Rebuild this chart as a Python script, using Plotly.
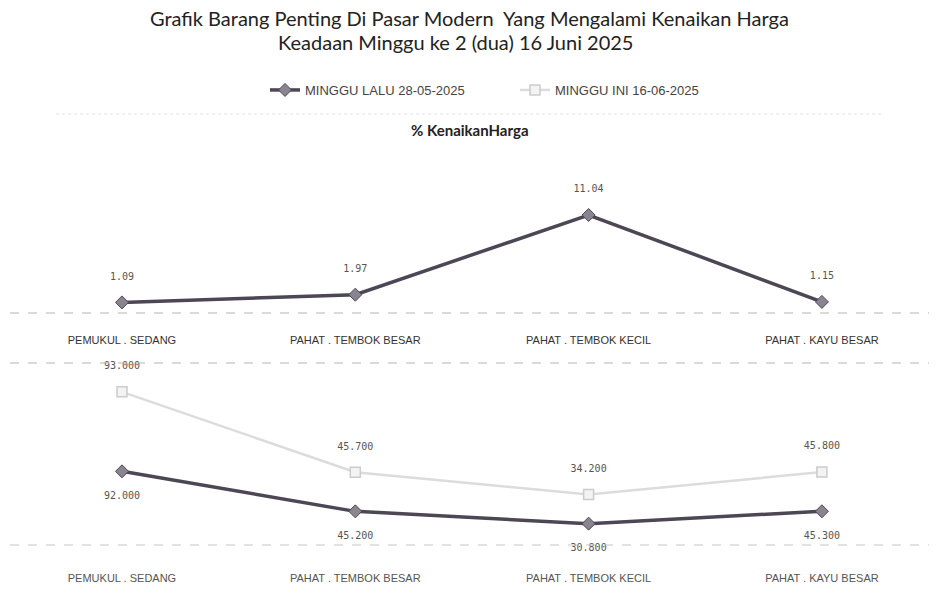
import plotly.graph_objects as go

categories = ["PEMUKUL . SEDANG", "PAHAT . TEMBOK BESAR", "PAHAT . TEMBOK KECIL", "PAHAT . KAYU BESAR"]
pct_increase = [1.09, 1.97, 11.04, 1.15]
last_week = [92000, 45200, 30800, 45300]
this_week = [93000, 45700, 34200, 45800]
pct_labels = ["1.09", "1.97", "11.04", "1.15"]
last_labels = ["92.000", "45.200", "30.800", "45.300"]
this_labels = ["93.000", "45.700", "34.200", "45.800"]
name_last = "MINGGU LALU 28-05-2025"
name_this = "MINGGU INI 16-06-2025"

TOP, BOT = 20.0, 20.0
PH = 590.0 - TOP - BOT
def py(px):
    return 1 - (px - TOP) / PH

DARK = "#4d4654"
LIGHT = "#dcdcdc"
FONT = "Liberation Sans"
VAL_FONT = dict(family="DejaVu Sans Mono", size=10, color="#555")

def above(labels):
    return [t + "<br>&nbsp;" for t in labels]

def below(labels):
    return ["&nbsp;<br>" + t for t in labels]

fig = go.Figure()

fig.add_trace(go.Scatter(
    x=categories, y=pct_increase, xaxis="x", yaxis="y",
    mode="lines+markers+text", text=above(pct_labels), textposition="top center",
    textfont=VAL_FONT,
    line=dict(color=DARK, width=3.5), marker=dict(symbol="diamond", size=10, color="#8a8390", line=dict(color=DARK, width=1)),
    showlegend=False, cliponaxis=False,
))

fig.add_trace(go.Scatter(
    x=categories, y=last_week, xaxis="x2", yaxis="y2", stackgroup="s", fill="none",
    name=name_last,
    mode="lines+markers+text", text=below(last_labels), textposition="bottom center",
    textfont=VAL_FONT,
    line=dict(color=DARK, width=3.5), marker=dict(symbol="diamond", size=10, color="#8a8390", line=dict(color=DARK, width=1)),
    cliponaxis=False,
))
fig.add_trace(go.Scatter(
    x=categories, y=this_week, xaxis="x2", yaxis="y2", stackgroup="s", fill="none",
    name=name_this,
    mode="lines+markers+text", text=above(this_labels), textposition="top center",
    textfont=VAL_FONT,
    line=dict(color=LIGHT, width=2.5), marker=dict(symbol="square", size=10, color="#f3f3f3", line=dict(color="#cccccc", width=1.5)),
    cliponaxis=False,
))

xr = [-0.480, 3.459]
xcommon = dict(type="category", range=xr, showgrid=False, showline=False, zeroline=False,
               ticks="", ticklabelstandoff=20, automargin=False, fixedrange=True)

fig.update_layout(
    width=939, height=590,
    margin=dict(l=10, r=10, t=TOP, b=BOT, autoexpand=False),
    paper_bgcolor="white", plot_bgcolor="white",
    xaxis=dict(**xcommon, anchor="y", domain=[0, 1], tickfont=dict(family=FONT, size=11, color="#333")),
    yaxis=dict(domain=[py(312), py(189)], range=[0, 14], visible=False, fixedrange=True),
    xaxis2=dict(**xcommon, anchor="y2", domain=[0, 1], tickfont=dict(family=FONT, size=11, color="#555")),
    yaxis2=dict(domain=[py(550), py(379)], range=[0, 200000], visible=False, fixedrange=True),
    legend=dict(orientation="h", x=(265 - 10) / 919, xanchor="left", y=py(90), yanchor="middle",
                font=dict(family=FONT, size=13, color="#444"), entrywidth=205, entrywidthmode="pixels"),
    annotations=[
        dict(text="Grafik Barang Penting Di Pasar Modern  Yang Mengalami Kenaikan Harga", x=0.5, xref="paper",
             y=py(18), yref="paper", yanchor="middle", showarrow=False,
             font=dict(family="Lato", size=20, color="#222")),
        dict(text="Keadaan Minggu ke 2 (dua) 16 Juni 2025", x=0.485, xref="paper",
             y=py(42), yref="paper", yanchor="middle", showarrow=False,
             font=dict(family="Lato", size=20, color="#222")),
        dict(text="<b>% KenaikanHarga</b>", x=0.5, xref="paper", y=py(130), yref="paper", yanchor="middle",
             showarrow=False, font=dict(family="Lato", size=15, color="#222")),
    ],
    shapes=[
        dict(type="line", xref="paper", x0=0, x1=1, yref="paper", y0=py(313), y1=py(313),
             line=dict(color="#b5b5b5", width=1, dash="dash")),
        dict(type="line", xref="paper", x0=0, x1=1, yref="paper", y0=py(363), y1=py(363),
             line=dict(color="#b5b5b5", width=1, dash="dash")),
        dict(type="line", xref="paper", x0=0, x1=1, yref="paper", y0=py(545), y1=py(545),
             line=dict(color="#c5c5c5", width=1, dash="dash")),
        dict(type="line", xref="paper", x0=0.05, x1=0.95, yref="paper", y0=py(114), y1=py(114),
             line=dict(color="#e2e2e2", width=1, dash="dot")),
    ],
)

fig.write_html("out.html", config={"displayModeBar": False},
               post_script="document.body.style.margin='0px';")
